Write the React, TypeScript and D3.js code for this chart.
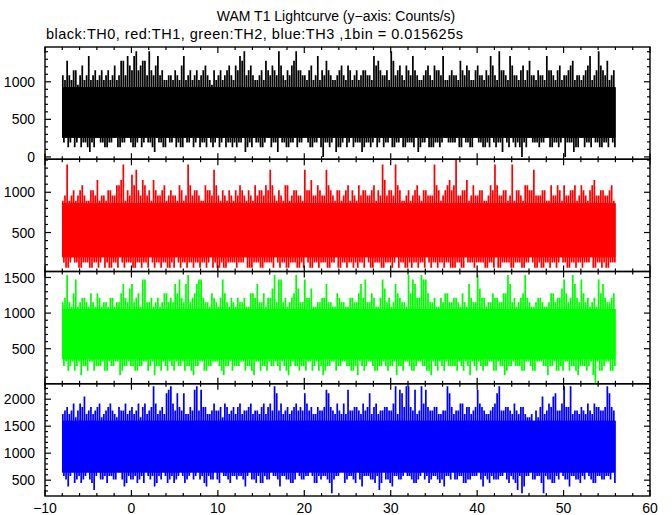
import React from "react";
import * as d3 from "d3";

const TITLE = "WAM T1 Lightcurve (y\u2212axis: Counts/s)";
const SUBTITLE = "black:TH0, red:TH1, green:TH2, blue:TH3 ,1bin = 0.015625s";

// one bin = 0.015625 s. Values below are counts per bin: the highest / lowest bins
// read in each quarter-second (A = first quarter, B = second quarter of every 0.5 s step)
const BIN = 0.015625;
const T_START = -8;
const T_END = 56;
const T_STEP = 0.5;

const X_DOMAIN: [number, number] = [-10, 60];
const X_MAJOR = [-10, 0, 10, 20, 30, 40, 50, 60];
const X_LABELS = ["\u221210", "0", "10", "20", "30", "40", "50", "60"];

const th0HiA = [17,20,16,18,17, 16,21,17,16,18, 17,16,19,17,20, 21,18,22,19,20, 22,17,21,18,16, 17,18,16,21,17, 16,18,17,19,16, 18,17,16,18,17, 19,21,22,18,17, 16,18,20,17,18, 22,17,18,19,22, 18,17,18,16,21, 18,20,17,16,18, 17,19,16,18,17, 18,17,21,20,17, 18,22,17,19,16, 18,21,17,16,18, 17,19,18,21,16, 18,17,20,17,18, 16,19,17,18,21, 17,22,18,16,19, 17,18,16,20,17, 18,17,21,18,16, 19,17,18,20,17, 16,18,21,17,22, 18,20,17];
const th0HiB = [16,17,18,15,19, 17,16,18,17,16, 18,17,16,20,17, 19,21,18,20,17, 18,19,17,16,17, 16,17,19,16,18, 17,16,18,17,15, 16,18,17,19,16, 18,20,17,19,16, 17,16,18,19,17, 19,16,17,20,18, 17,16,19,17,16, 17,18,16,17,19, 16,18,17,16,18, 17,16,19,18,17, 16,20,18,17,19, 17,18,16,17,19, 16,18,17,16,17, 17,16,18,19,16, 18,17,16,17,19, 16,18,17,21,17, 16,19,18,17,16, 17,16,18,17,18, 16,17,19,16,17, 17,19,16,18,19, 17,16,18];
const th0LoA = [3,2,4,3,2, 3,1,2,4,3, 2,3,4,2,3, 4,2,3,2,4, 3,1,3,2,4, 3,2,2,4,3, 2,4,3,2,3, 3,2,4,3,2, 2,3,1,3,4, 3,2,4,2,3, 4,3,2,3,2, 3,4,2,3,4, 0,3,3,1,2, 4,3,2,3,1, 3,2,4,3,2, 3,2,3,4,2, 3,2,1,3,4, 2,3,2,4,3, 3,4,2,3,2, 4,3,2,3,4, 2,3,4,2,3, 3,0,2,4,3, 2,3,4,2,3, 3,0,3,1,2, 4,3,2,3,2, 3,2,3];
const th0LoB = [4,3,2,4,3, 2,3,4,3,2, 3,4,2,3,4, 3,2,4,3,3, 2,4,3,2,3, 4,3,2,3,4, 3,2,3,4,2, 4,3,2,3,3, 3,4,2,2,3, 2,3,4,3,1, 3,2,3,4,3, 4,3,2,3,2, 3,2,4,2,3, 2,4,3,3,2, 3,3,2,4,3, 4,2,3,2,3, 3,4,2,3,2, 2,3,3,4,3, 3,2,4,3,2, 4,3,2,2,3, 3,1,3,4,2, 2,3,4,3,3, 3,4,2,3,2, 4,3,3,2,4, 2,3,4,3,2, 3,4,2];
const th1HiA = [14,21,15,14,16, 15,14,16,18,15, 14,16,15,17,21, 16,19,20,15,17, 16,18,15,16,14, 16,15,17,14,21, 15,16,14,17,16, 20,15,16,14,15, 16,17,15,16,14, 15,16,17,20,15, 16,14,17,15,16, 15,20,16,15,17, 15,20,16,14,16, 15,17,16,14,15, 16,15,17,16,21, 15,16,21,16,14, 16,15,17,14,16, 15,21,16,15,17, 16,22,15,16,14, 17,15,16,14,17, 21,15,16,14,21, 16,15,17,16,20, 15,16,14,17,15, 16,17,15,16,14, 17,15,16,18,15, 16,15,17];
const th1HiB = [15,14,16,15,17, 14,16,15,14,15, 16,15,17,18,14, 15,17,16,18,15, 14,16,15,17,15, 15,14,16,15,17, 16,15,14,16,15, 17,14,15,16,14, 15,16,14,15,17, 16,15,16,17,14, 15,17,14,16,15, 14,16,18,15,16, 15,17,15,16,14, 16,14,15,17,16, 15,16,14,15,18, 16,15,17,14,15, 14,16,15,16,15, 15,17,14,16,18, 17,15,16,18,15, 15,16,14,15,16, 17,15,16,15,14, 16,14,17,16,15, 15,16,14,15,17, 14,15,16,17,15, 16,14,17,15,16, 15,16,14];
const th1LoA = [2,1,3,2,1, 2,1,2,1,3, 2,1,2,3,1, 2,1,2,1,2, 3,1,2,2,1, 2,3,1,2,2, 1,2,2,1,3, 2,1,1,2,2, 1,2,3,1,2, 2,1,2,2,3, 1,2,1,2,1, 2,3,1,2,1, 2,1,2,3,1, 2,2,1,1,2, 3,1,2,2,1, 2,1,3,2,1, 2,2,1,2,3, 1,2,2,1,2, 1,2,1,3,2, 1,2,2,1,2, 3,1,2,2,1, 2,1,2,3,1, 2,1,2,2,1, 3,2,1,2,2, 1,2,3,1,2, 2,1,2];
const th1LoB = [1,2,2,1,2, 2,1,2,2,1, 1,2,1,2,2, 2,1,2,2,1, 2,2,1,2,1, 1,2,2,1,2, 2,1,2,2,1, 1,2,1,2,2, 2,2,1,1,2, 1,2,2,1,2, 2,1,2,2,1, 1,2,1,2,2, 2,1,2,1,2, 1,2,2,2,1, 2,1,2,1,2, 2,2,1,2,1, 1,2,2,1,2, 2,1,2,2,1, 1,2,1,2,2, 2,2,1,2,1, 1,2,2,1,2, 2,1,2,2,1, 1,2,1,2,2, 2,1,2,1,2, 2,2,1,2,1, 1,2,2];
const th2HiA = [18,24,17,23,18, 19,17,18,20,17, 18,19,17,18,22, 18,22,19,17,23, 18,17,19,18,20, 19,22,23,18,24, 19,22,23,18,17, 19,17,23,18,19, 17,18,19,17,20, 22,18,17,19,24, 23,18,17,19,24, 18,23,19,17,18, 19,22,18,17,19, 18,17,19,18,22, 23,18,19,17,23, 18,17,22,19,18, 24,23,19,24,23, 18,19,17,18,20, 18,19,17,18,22, 18,24,19,17,18, 19,18,20,24,18, 17,19,24,18,17, 19,18,17,20,18, 19,23,18,24,19, 23,18,17,19,23, 22,18,19];
const th2HiB = [19,18,20,17,19, 18,20,17,19,18, 17,19,18,20,19, 21,18,20,23,18, 19,18,17,20,18, 18,20,19,22,18, 20,23,19,18,20, 18,19,20,17,18, 19,18,17,20,19, 18,20,19,21,18, 23,19,18,20,21, 18,19,21,17,18, 19,18,17,20,18, 17,19,18,20,19, 18,20,17,19,21, 19,18,20,18,17, 20,22,19,23,20, 18,17,19,20,18, 19,18,20,17,19, 18,21,19,18,20, 19,18,20,22,19, 18,20,19,17,18, 19,17,18,20,19, 21,20,19,22,18, 20,19,18,17,20, 19,18,20];
const th2LoA = [4,3,5,4,2, 4,5,3,4,5, 3,4,5,2,4, 5,4,3,4,5, 4,2,4,5,3, 4,5,4,3,4, 2,4,5,3,4, 5,4,2,4,3, 4,5,3,4,2, 5,4,3,4,5, 3,4,2,5,4, 4,3,5,4,3, 2,4,5,3,4, 5,4,3,2,4, 4,5,3,4,5, 3,4,2,4,5, 4,3,5,4,3, 2,4,5,3,4, 4,3,4,5,2, 4,5,3,4,5, 3,4,2,4,5, 4,3,5,4,3, 5,4,2,4,3, 4,5,3,4,2, 4,3,5,0,3, 4,5,3];
const th2LoB = [5,4,3,5,4, 3,5,4,4,3, 5,4,5,3,4, 4,3,4,5,3, 5,4,3,4,5, 3,4,5,4,3, 4,5,3,4,5, 5,3,4,5,4, 4,5,4,3,5, 3,4,5,4,4, 5,3,4,4,3, 4,5,3,5,4, 3,4,5,4,5, 4,3,4,5,3, 5,4,3,4,4, 4,5,4,3,5, 3,4,5,4,3, 5,3,4,5,4, 4,5,3,4,5, 3,4,4,5,3, 5,4,3,4,4, 4,3,5,3,5, 5,4,4,5,3, 3,5,4,3,4, 4,4,2,5,3, 5,3,4];
const th3HiA = [27,29,28,26,30, 32,28,27,29,26, 28,30,27,29,28, 27,29,28,26,30, 28,35,27,29,33, 35,28,29,33,27, 28,35,34,29,27, 30,28,26,29,28, 27,30,28,29,27, 28,29,27,30,35, 28,27,29,28,30, 29,33,28,27,29, 28,34,29,27,28, 30,34,28,29,27, 28,33,29,27,28, 29,28,35,34,29, 35,28,27,35,34, 28,29,27,28,35, 29,28,30,27,29, 28,34,29,27,28, 30,35,28,29,27, 28,29,27,26,25, 26,32,28,29,33, 28,35,29,27,28, 29,27,28,30,29, 28,35,29];
const th3HiB = [28,27,30,28,29, 27,29,28,30,27, 29,28,26,28,30, 28,27,30,29,27, 29,30,28,27,34, 30,33,28,27,29, 34,28,29,27,28, 28,29,30,27,29, 29,27,28,30,28, 27,30,29,28,33, 30,28,27,29,28, 28,30,29,27,28, 29,33,28,30,27, 27,28,29,28,30, 29,27,30,28,29, 28,30,27,33,35, 29,34,28,30,29, 28,29,27,28,33, 27,28,30,29,27, 29,30,28,27,29, 33,28,29,28,30, 27,29,26,27,28, 29,27,30,32,28, 30,29,35,28,27, 28,30,27,29,28, 29,33,28];
const th3LoA = [9,6,10,8,7, 9,8,5,10,8, 7,9,8,10,6, 9,8,7,9,10, 8,6,9,10,7, 9,8,10,7,9, 8,10,9,6,8, 10,7,9,8,9, 8,9,6,10,8, 9,7,8,10,9, 6,9,8,7,10, 8,9,10,7,9, 9,8,4,9,10, 7,9,8,10,6, 9,8,7,5,10, 8,6,9,8,10, 9,7,8,10,9, 8,9,7,6,9, 10,8,9,7,8, 9,10,6,8,9, 8,9,10,7,8, 5,4,9,10,8, 9,4,8,7,9, 10,8,6,9,8, 9,10,8,7,9, 8,9,10];
const th3LoB = [8,9,7,9,8, 10,7,9,8,9, 9,8,10,8,7, 8,9,8,7,9, 9,7,8,9,8, 7,9,9,8,10, 9,8,7,9,8, 8,10,9,7,9, 9,8,9,8,7, 7,9,8,9,8, 9,8,7,8,9, 8,9,9,7,8, 9,7,8,9,10, 8,9,7,8,9, 9,8,9,7,8, 7,9,8,9,9, 8,7,9,8,7, 9,8,8,9,8, 8,9,7,8,9, 9,8,9,7,8, 8,9,8,9,7, 9,6,9,8,9, 7,9,8,7,8, 9,8,9,8,7, 8,9,7,9,8, 9,8,7];

// dense (always filled) part of each light curve, counts/s
const CORE_LO = [256, 192, 352, 640];
const CORE_HI = [928, 864, 1056, 1600];

const Y_DOMAINS: [number, number][] = [[-31, 1463], [16, 1410], [8, 1584], [207, 2286]];
const Y_LABELS = [[0, 500, 1000], [500, 1000], [500, 1000, 1500], [500, 1000, 1500, 2000]];
const COLORS = ["#000000", "#ff0000", "#00ff00", "#0000ff"];

const FONT = "'Liberation Sans', Arial, Helvetica, sans-serif";

export default function App() {
  const W = 672, H = 515;
  const X0 = 45, X1 = 650, TOP = 47, BOTTOM = 496;
  const ph = (BOTTOM - TOP) / 4;
  const x = d3.scaleLinear().domain(X_DOMAIN).range([X0, X1]);
  const series = [
    [th0HiA, th0LoA, th0HiB, th0LoB],
    [th1HiA, th1LoA, th1HiB, th1LoB],
    [th2HiA, th2LoA, th2HiB, th2LoB],
    [th3HiA, th3LoA, th3HiB, th3LoB],
  ];
  const xMinor = d3.range(X_DOMAIN[0], X_DOMAIN[1] + 0.01, 2);
  const slot = T_STEP / 4;
  const halfW = slot * 0.8;

  const panels = series.map((arrs, k) => {
    const top = TOP + k * ph;
    const bot = top + ph;
    const y = d3.scaleLinear().domain(Y_DOMAINS[k]).range([bot, top]);
    const p = d3.path();
    const n = arrs[0].length;
    for (let i = 0; i < n; i++) {
      arrs.forEach((arr, s) => {
        const tc = T_START + i * T_STEP + (s + 0.5) * slot;
        const v = arr[i] / BIN;
        const isHi = s % 2 === 0;
        const y0 = isHi ? y(v) : y(CORE_HI[k]);
        const y1 = isHi ? y(CORE_LO[k]) : y(v);
        const xa = x(tc - halfW), xb = x(tc + halfW);
        p.rect(xa, y0, xb - xa, y1 - y0);
      });
    }
    const area = d3.area<number>().x(d => x(d)).y0(y(CORE_LO[k])).y1(y(CORE_HI[k]));
    const [ymin, ymax] = Y_DOMAINS[k];
    const yTicks = d3.range(Math.ceil(ymin / 100) * 100, ymax, 100);
    return { k, top, bot, y, path: p.toString(), core: area([T_START, T_END]) || "", yTicks };
  });

  return (
    <svg width={W} height={H} style={{ position: "absolute", left: 0, top: 0, background: "#fff" }} fontFamily={FONT}>
      <rect x={0} y={0} width={W} height={H} fill="#fff" />
      <text x={W / 2} y={21} textAnchor="middle" fontSize={14}>{TITLE}</text>
      <text x={46} y={39} fontSize={14.5} textLength={417} lengthAdjust="spacing">{SUBTITLE}</text>
      <defs>
        {panels.map(p => (
          <clipPath id={`clip${p.k}`} key={p.k}>
            <rect x={X0} y={p.top} width={X1 - X0} height={ph} />
          </clipPath>
        ))}
      </defs>
      {panels.map(p => (
        <g key={p.k}>
          <g clipPath={`url(#clip${p.k})`}>
            <path d={p.core} fill={COLORS[p.k]} />
            <path d={p.path} fill={COLORS[p.k]} stroke="none" />
          </g>
          {xMinor.map(v => {
            const len = v % 10 === 0 ? 6 : 3;
            return (
              <g key={v}>
                <line x1={x(v)} x2={x(v)} y1={p.top} y2={p.top + len} stroke="#000" strokeWidth={1.2} />
                <line x1={x(v)} x2={x(v)} y1={p.bot} y2={p.bot - len} stroke="#000" strokeWidth={1.2} />
              </g>
            );
          })}
          {p.yTicks.map(v => {
            const len = v % 500 === 0 ? 6 : 3;
            return (
              <g key={v}>
                <line x1={X0} x2={X0 + len} y1={p.y(v)} y2={p.y(v)} stroke="#000" strokeWidth={1.2} />
                <line x1={X1} x2={X1 - len} y1={p.y(v)} y2={p.y(v)} stroke="#000" strokeWidth={1.2} />
              </g>
            );
          })}
          {Y_LABELS[p.k].map(v => (
            <text key={v} x={35} y={p.y(v)} dy="0.36em" textAnchor="end" fontSize={14}>{v}</text>
          ))}
          <rect x={X0} y={p.top} width={X1 - X0} height={ph} fill="none" stroke="#000" strokeWidth={1.4} />
        </g>
      ))}
      {X_MAJOR.map((v, i) => (
        <text key={v} x={x(v)} y={513} textAnchor="middle" fontSize={14}>{X_LABELS[i]}</text>
      ))}
    </svg>
  );
}
